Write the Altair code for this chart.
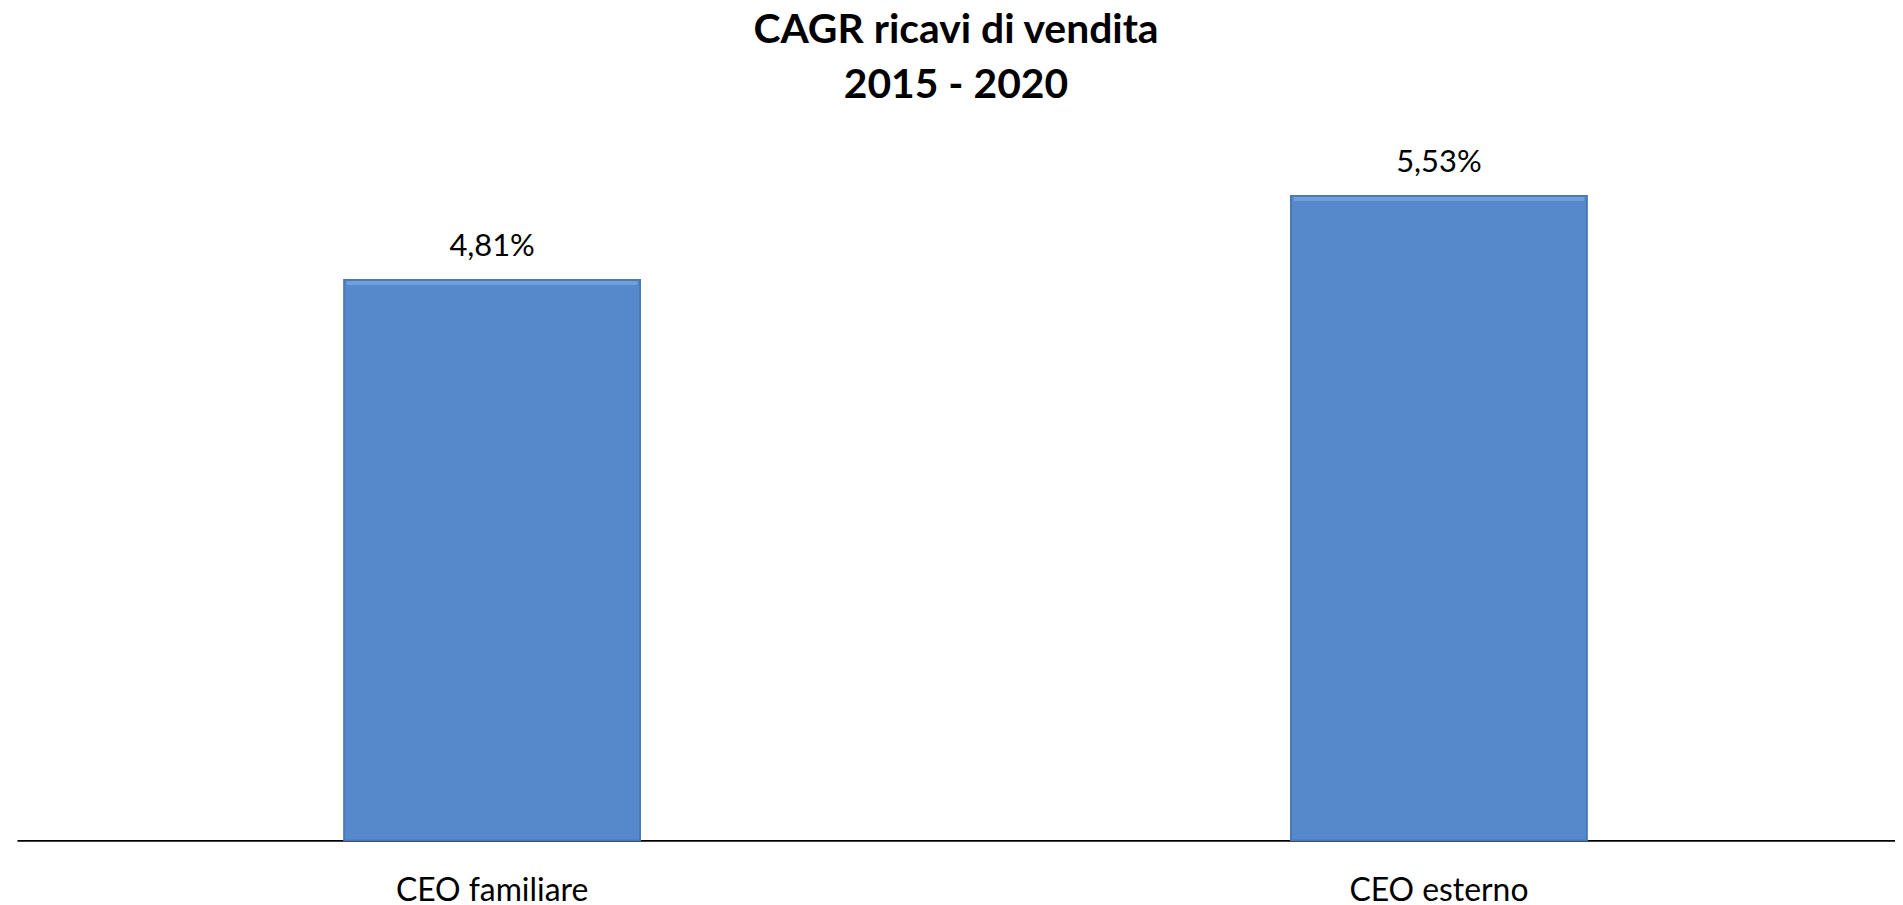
import altair as alt
import pandas as pd

categories = ["CEO familiare", "CEO esterno"]
values = [4.81, 5.53]
labels = ["4,81%", "5,53%"]

df = pd.DataFrame({"cat": categories, "val": values, "lab": labels})

x = alt.X("cat:N", sort=categories, title=None,
          scale=alt.Scale(paddingInner=0.6875, paddingOuter=0.3355, align=0.515),
          axis=alt.Axis(labelAngle=0, ticks=False, domainColor="#000000", domainWidth=2,
                        labelFont="Lato", labelFontSize=32, labelColor="#000000",
                        labelPadding=35, labelFontWeight="normal", labelLimit=600))
y = alt.Y("val:Q", scale=alt.Scale(domain=[0, 6]), axis=None)

bars = alt.Chart(df).mark_bar(color="#5589cb", stroke="#4a79b6", strokeWidth=2).encode(x=x, y=y)
highlight = alt.Chart(df).mark_tick(color="#7ea8df", thickness=4, size=292, yOffset=3).encode(x=x, y=y)
text = alt.Chart(df).mark_text(dy=-33, baseline="middle", font="Lato", fontSize=31,
                               color="#000000").encode(x=x, y=y, text="lab:N")

chart = alt.layer(bars, highlight, text).properties(
    width=1886, height=702,
    padding={"left": 9, "top": 0, "right": 0, "bottom": 0},
    title=alt.TitleParams("CAGR ricavi di vendita", subtitle="2015 - 2020",
                          font="Lato", fontSize=41, fontWeight="bold", color="#000000",
                          subtitleFont="Lato", subtitleFontSize=41, subtitleFontWeight="bold",
                          subtitleColor="#000000", subtitlePadding=14,
                          anchor="middle", offset=35),
).configure(background="white").configure_view(strokeWidth=0, stroke="transparent")

chart.save("out.html", embed_options={"renderer": "svg", "actions": False})
